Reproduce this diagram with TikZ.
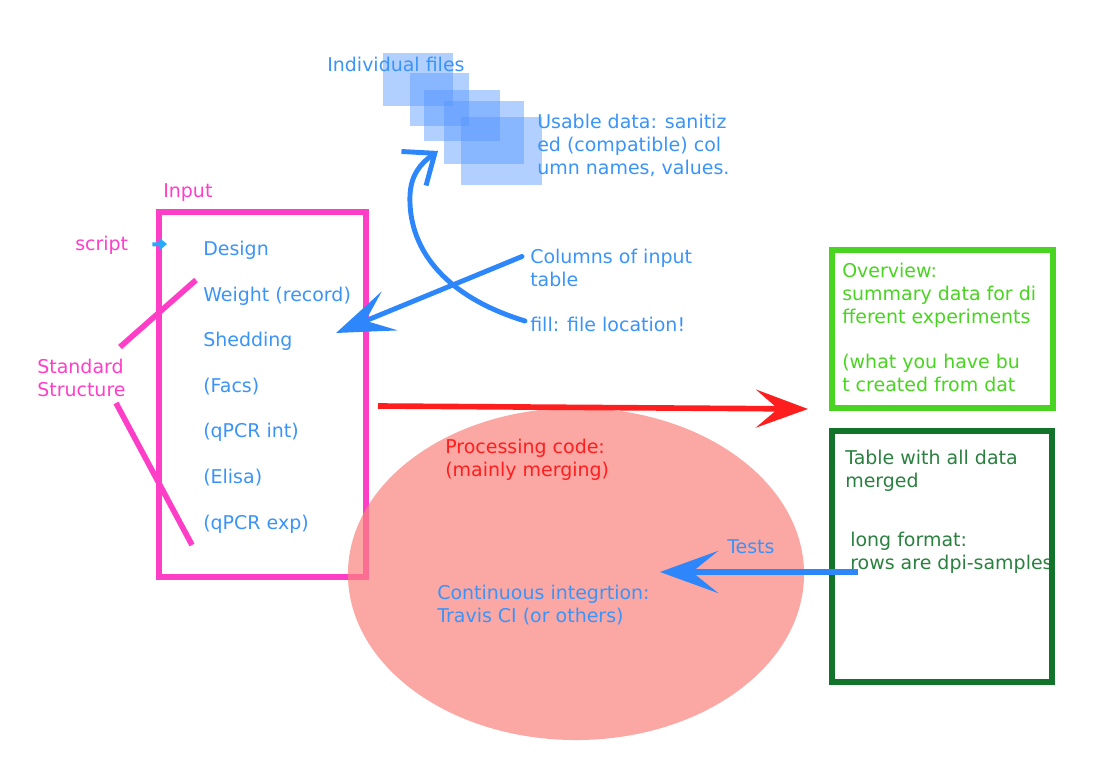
\documentclass[tikz,border=0pt]{standalone}
\usepackage{fontspec}
\setmainfont{DejaVu Sans}
\usetikzlibrary{arrows.meta,positioning,shapes.geometric}

\definecolor{inpink}{RGB}{255,62,200}
\definecolor{itemblue}{RGB}{58,148,248}
\definecolor{penblue}{RGB}{45,135,250}
\definecolor{scriptblue}{RGB}{40,170,250}
\definecolor{fileblue}{RGB}{85,150,255}
\definecolor{procred}{RGB}{255,30,30}
\definecolor{ovgreen}{RGB}{72,212,32}
\definecolor{tabgreen}{RGB}{18,115,42}
\definecolor{salmon}{RGB}{250,130,125}

\begin{document}
\begin{tikzpicture}[x=0.025cm,y=-0.025cm,
    font=\fontsize{13.5pt}{16.3pt}\selectfont,
    lbl/.style={anchor=west,inner sep=0pt,align=left},
    item/.style={lbl,text=itemblue,text height=10.8pt,text depth=2.7pt},
    frame/.style={draw,line width=3.8pt,inner sep=0pt},
    pen/.style={line width=3.5pt,line cap=round,line join=round},
    bigtip/.style={-{Stealth[length=1.45cm,width=1.05cm,inset=0.65cm]}}]

  \useasboundingbox (0,0) rectangle (1101,760);

  % individual files
  \foreach \xa/\ya/\xb/\yb in {383/53/453/106,410/73/469/126,424/90/500/141,444/101/524/164,461/117/542/185}
    \fill[fileblue,fill opacity=0.45] (\xa,\ya) rectangle (\xb,\yb);
  \node[lbl,text=itemblue] (files) at (327,64) {Individual files};
  \node[lbl,text=itemblue] (usable) at (537,145) {Usable data: sanitiz\\ed (compatible) col\\umn names, values.};
  \coordinate (filestip) at (438,151);

  % input
  \node[frame,inpink,minimum width=5.175cm,minimum height=9.125cm] (inputbox) at (262.5,394.5) {};
  \node[lbl,text=inpink] (input) at (163,193) {Input};
  \node[lbl,text=inpink] (script) at (75,245) {script};
  \coordinate (scripttip) at (167,244);
  \draw[scriptblue,line width=2.8pt,-{Triangle[length=5pt,width=8pt]},shorten <=0.6cm] (script.east) -- (scripttip);

  \node[item] (design) at (203,250) {Design};
  \node[item] (weight) [below right=0.65cm and 0cm of design.south west] {Weight (record)};
  \node[item] (shedding) [below right=0.65cm and 0cm of weight.south west] {Shedding};
  \node[item] (facs) [below right=0.65cm and 0cm of shedding.south west] {(Facs)};
  \node[item] (qpcrint) [below right=0.65cm and 0cm of facs.south west] {(qPCR int)};
  \node[item] (elisa) [below right=0.65cm and 0cm of qpcrint.south west] {(Elisa)};
  \node[item] (qpcrexp) [below right=0.65cm and 0cm of elisa.south west] {(qPCR exp)};

  % standard structure
  \node[lbl,text=inpink] (stdstruct) at (37,377.5) {Standard\\Structure};
  \coordinate (ssa) at (120,347);
  \coordinate (ssb) at (196,280);
  \coordinate (ssc) at (116,403);
  \coordinate (ssd) at (192,545);
  \draw[inpink,line width=4pt] (ssa) -- (ssb) (ssc) -- (ssd);

  % processing
  \node[ellipse,fill=salmon,fill opacity=0.7,inner sep=0pt,minimum width=11.4cm,minimum height=8.3cm] (proc) at (576,574) {};
  \node[lbl,text=procred] (proctxt) at (445,460) {Processing code:\\(mainly merging)};
  \node[lbl,text=itemblue] (ci) at (437,605) {Continuous integrtion:\\Travis CI (or others)};
  \coordinate (redtail) at (378,406);
  \coordinate (redtip) at (808,409);
  \draw[procred,line width=4pt,-{Stealth[length=1.3cm,width=0.95cm,inset=0.55cm]}] (redtail) -- (redtip);

  % columns of input table
  \node[lbl,text=itemblue] (columns) at (530,267.5) {Columns of input\\table};
  \node[lbl,text=itemblue] (fill) at (530,324) {fill: file location!};
  \coordinate (colstip) at (336,333);
  \draw[penblue,pen,bigtip] ([shift={(-8,-11)}]columns.west) -- (colstip);
  \draw[penblue,pen,-{Straight Barb[length=0.65cm,width=1.05cm]}] ([shift={(-5,-3)}]fill.west)
    .. controls (440,295) and (408,245) .. (410,195)
    .. controls (411,175) and (420,164) .. (filestip);

  % outputs
  \node[frame,ovgreen,minimum width=5.525cm,minimum height=3.95cm] (overview) at (942.5,329) {};
  \node[lbl,text=ovgreen] (ovtxt) at (842,327.5) {Overview:\\summary data for di\\fferent experiments\\[16.3pt](what you have bu\\t created from dat};
  \node[lbl,text=tabgreen!90] (tabtxt) at (845,470.5) {Table with all data\\merged};
  \node[lbl,text=tabgreen!90] (longtxt) at (850,553) {long format:\\rows are dpi-samples};
  \node[frame,tabgreen,minimum width=5.5cm,minimum height=6.275cm] (table) at (942,556.5) {};

  % tests
  \node[lbl,text=itemblue] (tests) at (727,547) {Tests};
  \coordinate (teststail) at (858,572);
  \coordinate (teststip) at (660,572);
  \draw[penblue,line width=4pt,bigtip] (teststail) -- (teststip);
\end{tikzpicture}
\end{document}
